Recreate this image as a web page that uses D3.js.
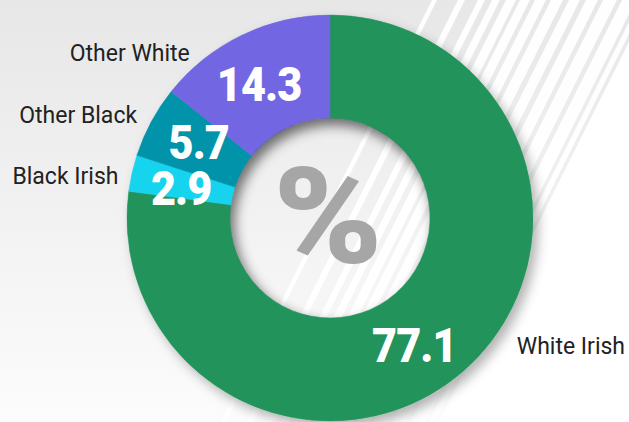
<!DOCTYPE html>
<html>
<head>
<meta charset="utf-8">
<script src="https://cdn.jsdelivr.net/npm/d3@7"></script>
<style>
  html, body { margin: 0; padding: 0; background: #fff; }
  svg { display: block; }
</style>
</head>
<body>
<svg id="chart" width="629" height="422"></svg>
<script>
// Population share by group, in percent
const categories = ["White Irish", "Black Irish", "Other Black", "Other White"];
const values = [77.1, 2.9, 5.7, 14.3];
const valueLabels = ["77.1", "2.9", "5.7", "14.3"];
const centerLabel = "%";
const colors = ["#23935a", "#17d3ee", "#0093aa", "#7266e3"];

const W = 629, H = 422;
const cx = 330, cy = 218;
const rOuter = 203, rInner = 100;

const svg = d3.select("#chart");
const defs = svg.append("defs");

// soft vertical background wash
const bg = defs.append("linearGradient").attr("id", "bgGrad")
  .attr("x1", 0).attr("y1", 0).attr("x2", 0).attr("y2", 1);
bg.append("stop").attr("offset", 0).attr("stop-color", "#e7e7e7");
bg.append("stop").attr("offset", 1).attr("stop-color", "#fcfcfc");

// drop shadow under the ring
const ds = defs.append("filter").attr("id", "ringShadow")
  .attr("x", "-20%").attr("y", "-20%").attr("width", "140%").attr("height", "140%");
ds.append("feDropShadow").attr("dx", 5).attr("dy", 6).attr("stdDeviation", 6)
  .attr("flood-color", "#000").attr("flood-opacity", 0.3);

// blur used for the inner hole's inset shadow
defs.append("filter").attr("id", "holeBlur")
  .attr("x", "-30%").attr("y", "-30%").attr("width", "160%").attr("height", "160%")
  .append("feGaussianBlur").attr("stdDeviation", 7);

defs.append("clipPath").attr("id", "holeClip")
  .append("circle").attr("cx", cx).attr("cy", cy).attr("r", rInner);

svg.append("rect").attr("width", W).attr("height", H).attr("fill", "url(#bgGrad)");

// diagonal decorative stripes at the top right
const slope = 0.5; // horizontal shift per pixel down
const stripes = [
  [432, 5], [458, 7], [478, 7], [492, 8], [506, 10], [520, 10],
  [535, 11], [551, 12], [569, 11], [586, 12], [603, 14], [622, 14], [640, 6]
];
const deco = svg.append("g").attr("class", "stripes");
deco.append("polygon")
  .attr("points", [[650, 0], [W + 400, 0], [W + 400, H], [650 - slope * H, H]].join(" "))
  .attr("fill", "#ffffff");
deco.selectAll("polygon.stripe").data(stripes).join("polygon")
  .attr("class", "stripe")
  .attr("points", d => [[d[0], 0], [d[0] + d[1], 0],
                        [d[0] + d[1] - slope * H, H], [d[0] - slope * H, H]].join(" "))
  .attr("fill", "#ffffff")
  .attr("opacity", 0.95);

// donut
const pie = d3.pie().sort(null).value(d => d.value)
  .startAngle(0).endAngle(2 * Math.PI);
const data = categories.map((c, i) => ({ category: c, value: values[i], label: valueLabels[i], color: colors[i] }));
const arcs = pie(data);

const arc = d3.arc().innerRadius(rInner).outerRadius(rOuter);

const ring = svg.append("g")
  .attr("transform", `translate(${cx},${cy})`)
  .attr("filter", "url(#ringShadow)");
ring.selectAll("path").data(arcs).join("path")
  .attr("d", arc)
  .attr("fill", d => d.data.color)
  .attr("stroke", d => d.data.color)
  .attr("stroke-width", 0.5);

// inset shadow inside the hole
svg.append("g").attr("clip-path", "url(#holeClip)")
  .append("circle")
  .attr("cx", cx + 3).attr("cy", cy + 7).attr("r", rInner + 16)
  .attr("fill", "none").attr("stroke", "#000").attr("stroke-opacity", 0.38)
  .attr("stroke-width", 30)
  .attr("filter", "url(#holeBlur)");

// value labels inside the slices, placed along the mid-ring radius
const labelRadius = 152;
const labelFrac = { "White Irish": 0.527, "Black Irish": 0.39, "Other Black": 0.6, "Other White": 0.46 };
const labelArc = d3.arc().innerRadius(labelRadius).outerRadius(labelRadius);
svg.append("g").attr("transform", `translate(${cx},${cy})`)
  .selectAll("text").data(arcs).join("text")
  .attr("transform", d => {
    const f = labelFrac[d.data.category] ?? 0.5;
    const a = d.startAngle + (d.endAngle - d.startAngle) * f;
    const [x, y] = labelArc.centroid({ startAngle: a, endAngle: a });
    return `translate(${x},${y}) scale(0.9,1)`;
  })
  .attr("dy", "0.36em")
  .attr("text-anchor", "middle")
  .attr("font-family", "Roboto, 'Noto Sans', sans-serif")
  .attr("font-weight", 900)
  .attr("font-size", 48)
  .attr("letter-spacing", "-1px")
  .attr("fill", "#ffffff")
  .text(d => d.data.label);

// category labels outside the ring
const outerPlacement = {
  "White Irish": { angle: 129, gap: 29, anchor: "start" },
  "Black Irish": { angle: 282, gap: 13, anchor: "end" },
  "Other Black": { angle: 300.5, gap: 18, anchor: "end" },
  "Other White": { angle: 324.4, gap: 22, anchor: "end" }
};
svg.append("g").selectAll("text").data(arcs).join("text")
  .each(function (d) {
    const p = outerPlacement[d.data.category];
    const a = p.angle * Math.PI / 180;
    const x = cx + rOuter * Math.sin(a);
    const y = cy - rOuter * Math.cos(a);
    d3.select(this)
      .attr("x", p.anchor === "start" ? x + p.gap : x - p.gap)
      .attr("y", y)
      .attr("text-anchor", p.anchor);
  })
  .attr("dy", "0.35em")
  .attr("font-family", "Roboto, 'Noto Sans', sans-serif")
  .attr("font-size", 23)
  .attr("fill", "#222222")
  .text(d => d.data.category);

// unit marker in the centre
svg.append("text")
  .attr("transform", `translate(${cx - 2},${cy + 45}) scale(1.1,1)`)
  .attr("text-anchor", "middle")
  .attr("font-family", "Roboto, 'Noto Sans', sans-serif")
  .attr("font-weight", 900)
  .attr("font-size", 134)
  .attr("fill", "#a6a6a6")
  .text(centerLabel);
</script>
</body>
</html>
